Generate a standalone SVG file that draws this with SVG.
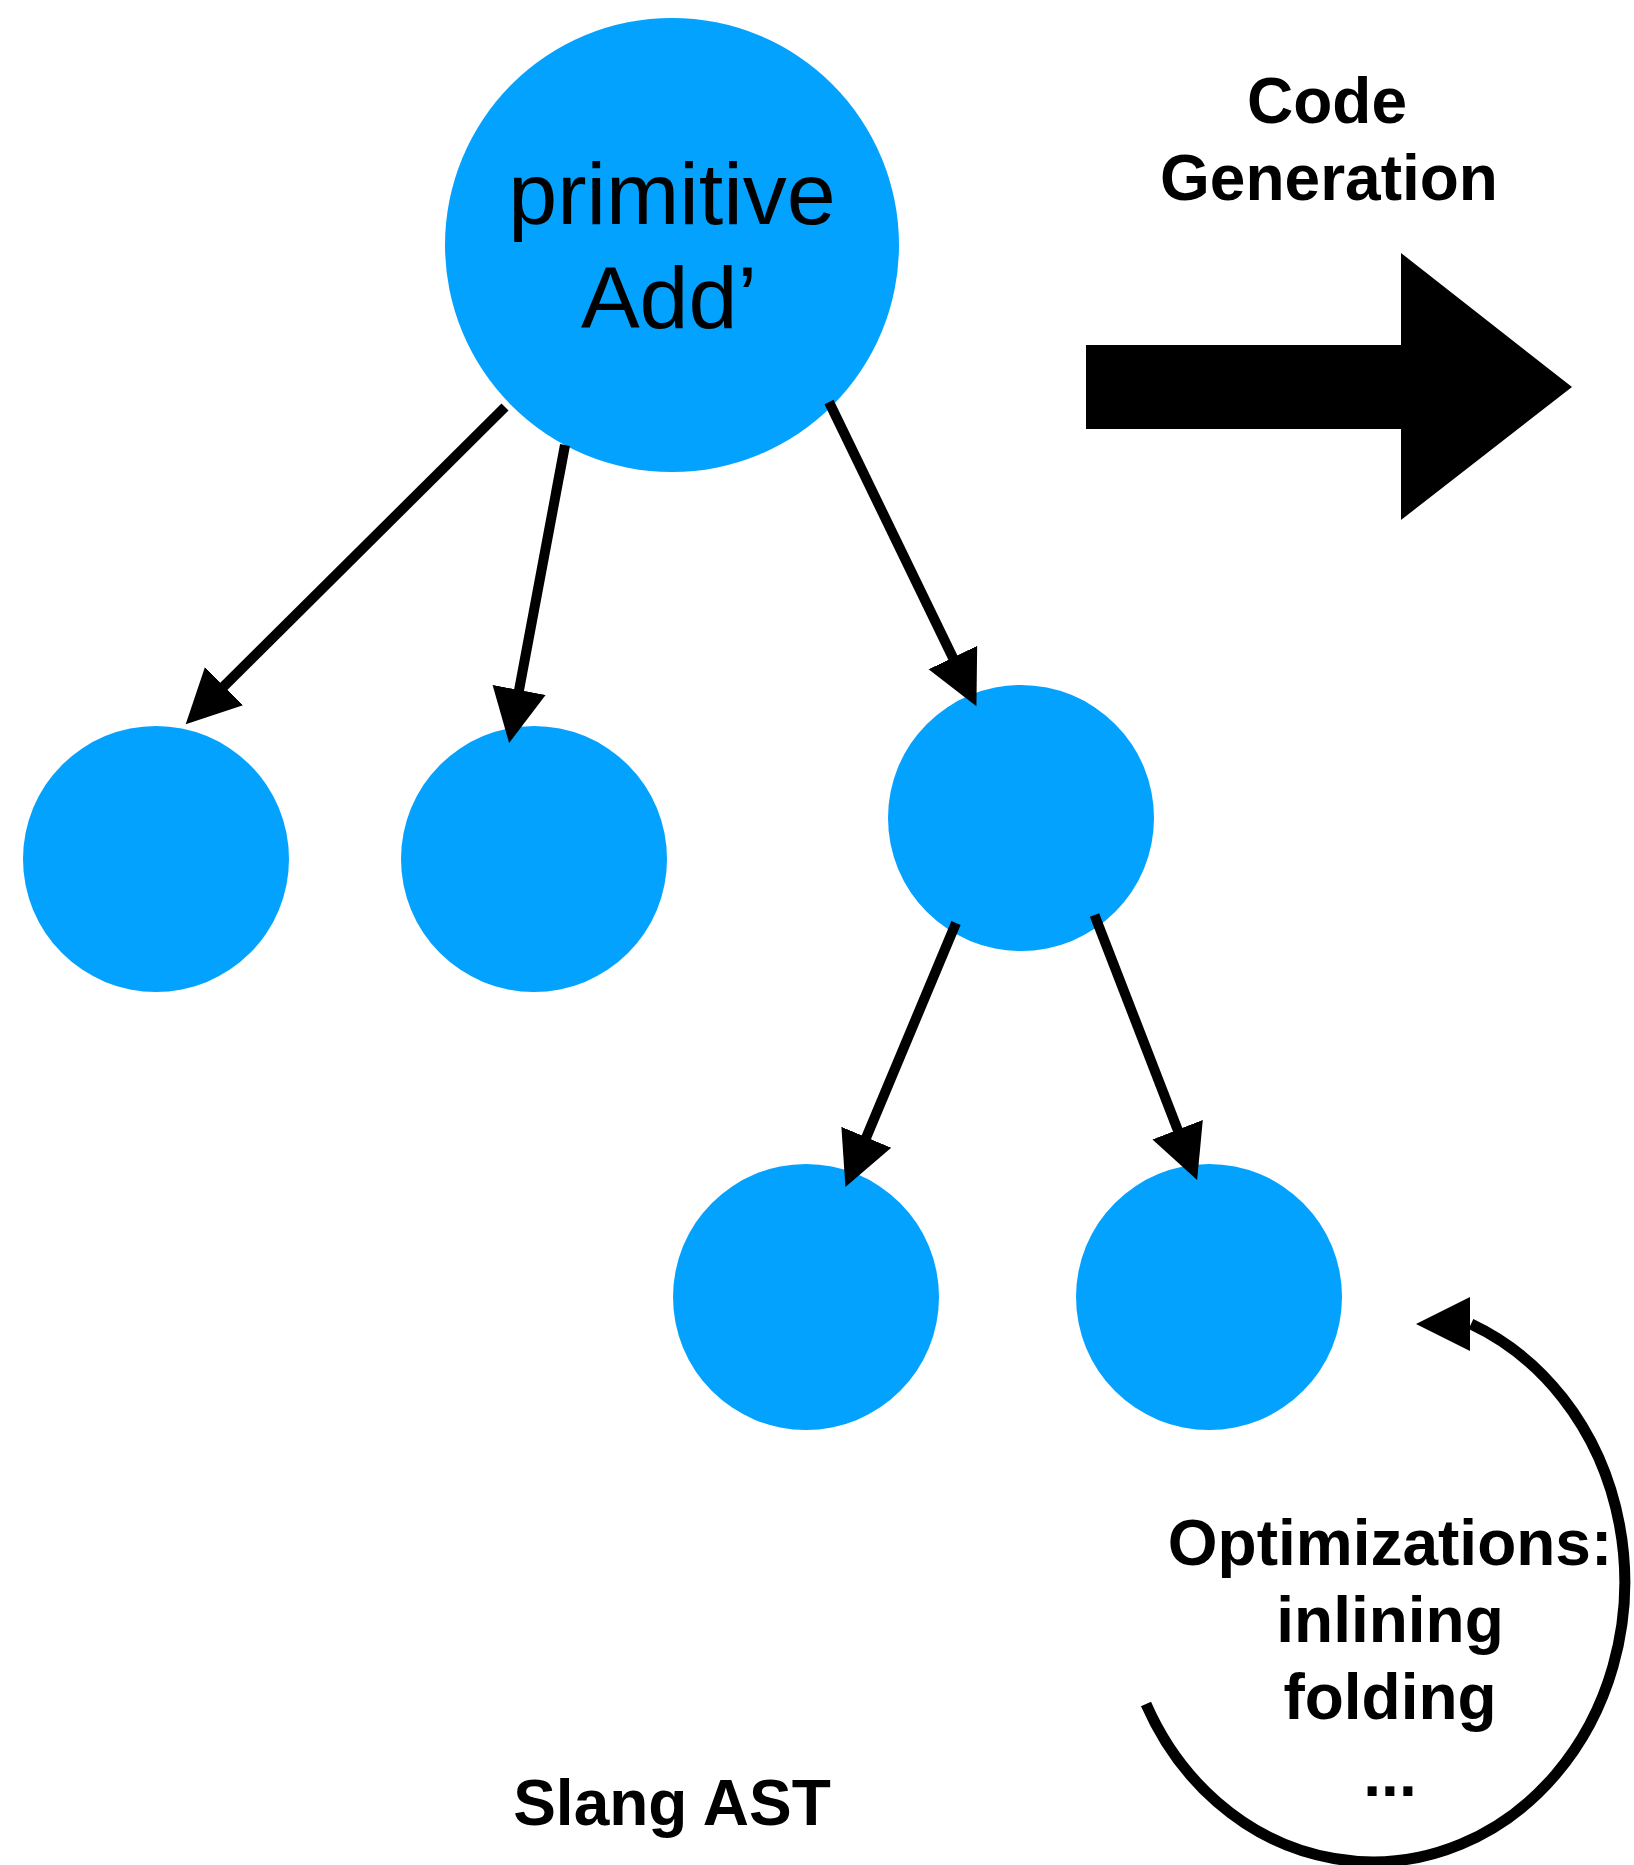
<svg xmlns="http://www.w3.org/2000/svg" width="1634" height="1865" viewBox="0 0 1634 1865">
  <style>
    .node { fill: #04A2FF; }
    .edge { stroke: #000; stroke-width: 10; fill: none; }
    .lbl { font-family: "Liberation Sans", Arial, Helvetica, sans-serif; fill: #000; text-anchor: middle; }
    .big { font-size: 88px; }
    .bold { font-size: 64px; font-weight: bold; }
  </style>
  <defs>
    <marker id="head" markerUnits="userSpaceOnUse" markerWidth="56" markerHeight="56" viewBox="0 0 56 54" refX="1" refY="27" orient="auto">
      <path d="M0,0 L54,27 L0,54 z" fill="#000"/>
    </marker>
  </defs>
  <rect width="1634" height="1865" fill="#fff"/>

  <g id="root">
    <circle class="node" cx="672" cy="245" r="227"/>
    <text class="lbl big" x="672" y="224">primitive</text>
    <text class="lbl big" x="669" y="328">Add’</text>
  </g>
  <g id="child1"><circle class="node" cx="156" cy="859" r="133"/></g>
  <g id="child2"><circle class="node" cx="534" cy="859" r="133"/></g>
  <g id="child3"><circle class="node" cx="1021" cy="818" r="133"/></g>
  <g id="grandchild1"><circle class="node" cx="806" cy="1297" r="133"/></g>
  <g id="grandchild2"><circle class="node" cx="1209" cy="1297" r="133"/></g>

  <g id="connectors">
    <line class="edge" x1="505" y1="407" x2="223.3" y2="686.9" marker-end="url(#head)"/>
    <line class="edge" x1="565" y1="445" x2="518.9" y2="690.9" marker-end="url(#head)"/>
    <line class="edge" x1="829" y1="402" x2="953.3" y2="658.5" marker-end="url(#head)"/>
    <line class="edge" x1="956" y1="923" x2="865.9" y2="1138.2" marker-end="url(#head)"/>
    <line class="edge" x1="1094.5" y1="915" x2="1178" y2="1130.6" marker-end="url(#head)"/>
  </g>

  <g id="codegen">
    <text class="lbl bold" x="1327" y="123">Code</text>
    <text class="lbl bold" x="1329" y="200">Generation</text>
    <polygon points="1086,345 1401,345 1401,253 1572,387 1401,520 1401,429 1086,429" fill="#000"/>
  </g>

  <g id="optimizations">
    <path d="M1146,1704 A252,280 0 1 0 1471,1324" fill="none" stroke="#000" stroke-width="11"/>
    <polygon points="1416,1324 1470,1297 1470,1351" fill="#000"/>
    <text class="lbl bold" x="1390" y="1565">Optimizations:</text>
    <text class="lbl bold" x="1390" y="1642">inlining</text>
    <text class="lbl bold" x="1390" y="1719">folding</text>
    <text class="lbl bold" x="1390" y="1796">...</text>
  </g>

  <g id="title">
    <text class="lbl bold" x="672" y="1825">Slang AST</text>
  </g>
</svg>
